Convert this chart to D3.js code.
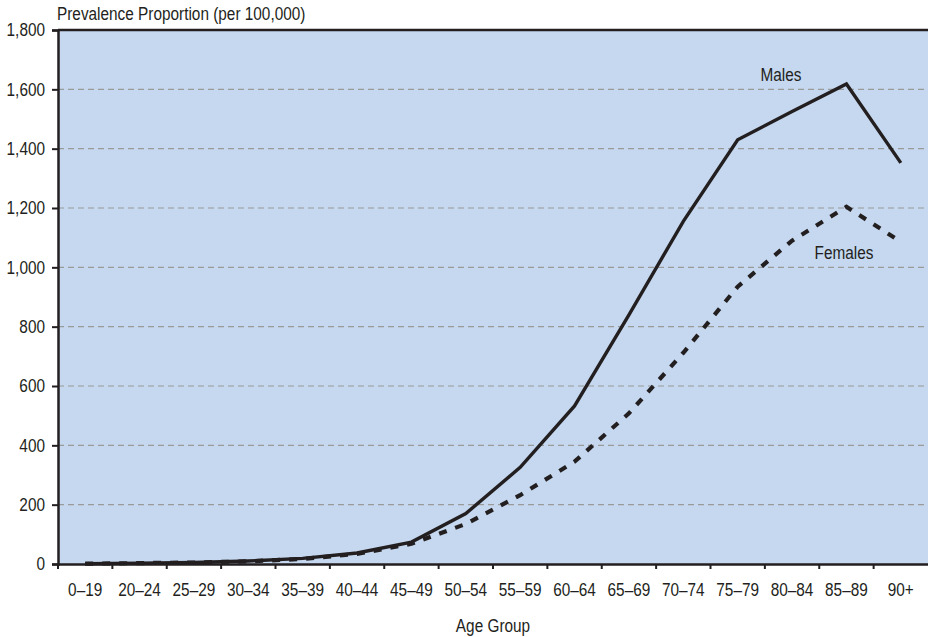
<!DOCTYPE html>
<html>
<head>
<meta charset="utf-8">
<script src="https://d3js.org/d3.v7.min.js"></script>
<style>
  body { margin: 0; background: #fff; }
  text { font-family: "Liberation Sans", Arial, sans-serif; fill: #231f20; }
</style>
</head>
<body>
<div id="chart"></div>
<script>
var ageGroups = ["0\u201319", "20\u201324", "25\u201329", "30\u201334", "35\u201339", "40\u201344", "45\u201349",
                 "50\u201354", "55\u201359", "60\u201364", "65\u201369", "70\u201374", "75\u201379", "80\u201384",
                 "85\u201389", "90+"];
var males   = [1, 3, 5, 10, 19, 37, 74, 170, 326, 533, 840, 1155, 1430, 1525, 1618, 1352];
var females = [1, 3, 5, 9, 17, 34, 68, 135, 232, 345, 508, 712, 935, 1090, 1204, 1086];
var yTicks = [0, 200, 400, 600, 800, 1000, 1200, 1400, 1600, 1800];

var width = 928, height = 637;
var margin = {top: 30, right: 0, bottom: 73, left: 58};
var fontSize = 18.5;
var squeeze = 0.83; // condensed look

var svg = d3.select("#chart").append("svg")
    .attr("width", width)
    .attr("height", height);

var x = d3.scaleBand()
    .domain(ageGroups)
    .range([margin.left, width - margin.right]);

var y = d3.scaleLinear()
    .domain([0, 1800])
    .range([height - margin.bottom, margin.top]);

// narrow label helper
function label(px, py, str, anchor) {
    svg.append("g")
        .attr("transform", "translate(" + px + "," + py + ") scale(" + squeeze + ",1)")
        .append("text")
        .attr("text-anchor", anchor || "start")
        .attr("font-size", fontSize)
        .text(str);
}

// background
svg.append("rect")
    .attr("x", margin.left)
    .attr("y", margin.top)
    .attr("width", width - margin.right - margin.left)
    .attr("height", y(0) - margin.top)
    .attr("fill", "#c5d8ef");

// grid
svg.append("g")
    .selectAll("line")
    .data(yTicks.filter(d => d > 0 && d < 1800))
    .enter().append("line")
    .attr("x1", margin.left)
    .attr("x2", width - margin.right)
    .attr("y1", d => y(d))
    .attr("y2", d => y(d))
    .attr("stroke", "#9a9a9a")
    .attr("stroke-width", 1.2)
    .attr("stroke-dasharray", "6,4");

// top border
svg.append("line")
    .attr("x1", margin.left).attr("x2", width)
    .attr("y1", y(1800)).attr("y2", y(1800))
    .attr("stroke", "#231f20").attr("stroke-width", 2.5);

var line = d3.line()
    .x((d, i) => x(ageGroups[i]) + x.bandwidth() / 2)
    .y(d => y(d));

svg.append("path")
    .datum(males)
    .attr("d", line)
    .attr("fill", "none")
    .attr("stroke", "#231f20")
    .attr("stroke-width", 3.4);

svg.append("path")
    .datum(females)
    .attr("d", line)
    .attr("fill", "none")
    .attr("stroke", "#231f20")
    .attr("stroke-width", 4.2)
    .attr("stroke-dasharray", "8,9");

// axes
var xAxis = svg.append("g")
    .attr("transform", "translate(0," + y(0) + ")")
    .call(d3.axisBottom(x).tickSize(0).tickPadding(20));
xAxis.select(".domain").attr("stroke", "#231f20").attr("stroke-width", 2.5);
xAxis.selectAll(".tick text")
    .attr("font-size", fontSize)
    .attr("dy", null)
    .attr("y", 32)
    .attr("transform", "scale(" + squeeze + ",1)");

// tick marks at band boundaries
svg.append("g")
    .selectAll("line")
    .data(ageGroups)
    .enter().append("line")
    .attr("x1", d => x(d))
    .attr("x2", d => x(d))
    .attr("y1", y(0))
    .attr("y2", y(0) + 5)
    .attr("stroke", "#231f20")
    .attr("stroke-width", 2);

var yAxis = svg.append("g")
    .attr("transform", "translate(" + margin.left + ",0)")
    .call(d3.axisLeft(y).tickValues(yTicks).tickSize(6).tickPadding(6).tickFormat(d3.format(",")));
yAxis.select(".domain").attr("stroke", "#231f20").attr("stroke-width", 2.5);
yAxis.selectAll(".tick line").attr("stroke", "#231f20").attr("stroke-width", 2);
yAxis.selectAll(".tick text")
    .attr("font-size", fontSize)
    .attr("x", -13 / squeeze)
    .attr("transform", "scale(" + squeeze + ",1)");

svg.selectAll(".tick text").style("font-family", "'Liberation Sans', Arial, sans-serif").attr("fill", "#231f20");

// titles
label(57, 20, "Prevalence Proportion (per 100,000)");
label((margin.left + width) / 2, 632, "Age Group", "middle");
label(781, 81, "Males", "middle");
label(844, 259, "Females", "middle");
</script>
</body>
</html>
